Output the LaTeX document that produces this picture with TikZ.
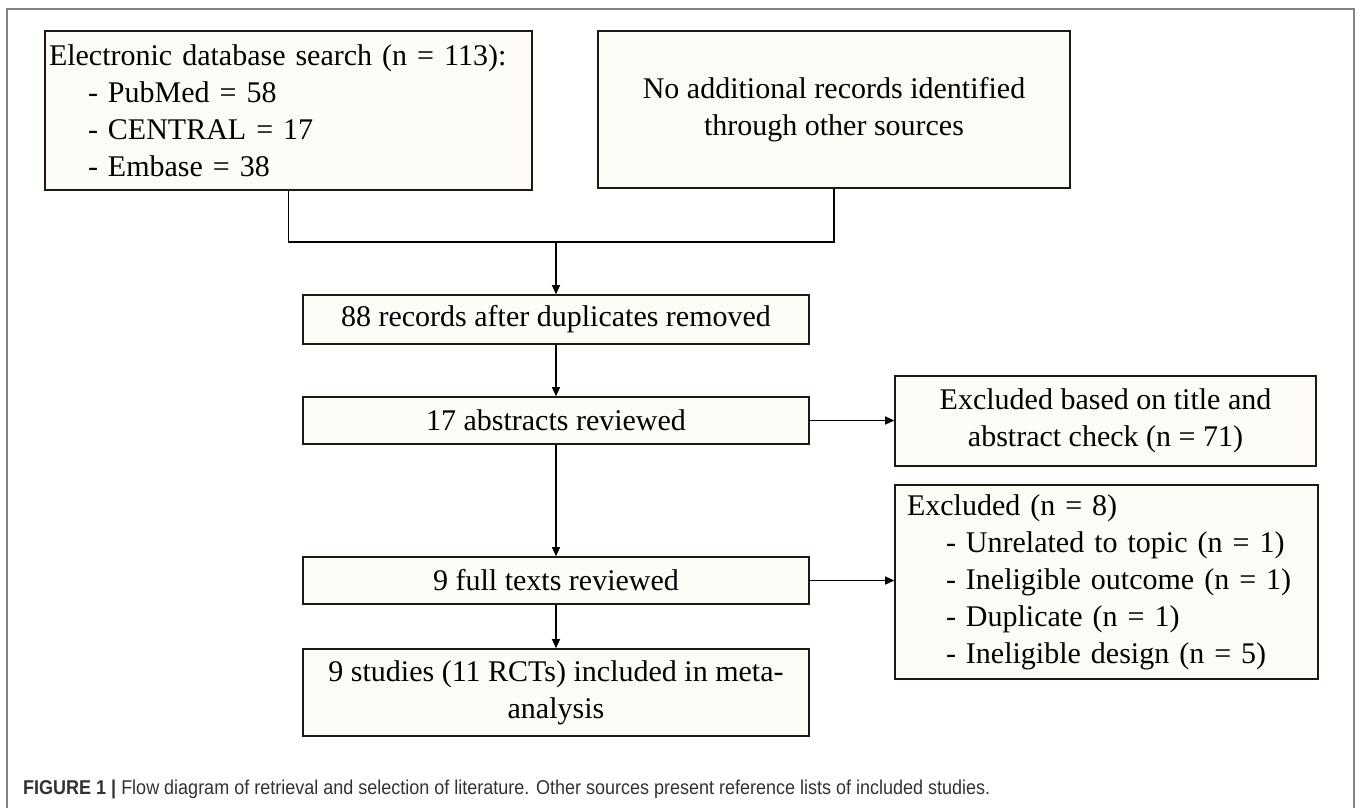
\documentclass[tikz,border=0pt]{standalone}
\usepackage{fontspec}
\setmainfont{Liberation Serif}
\newfontfamily\capfont{Liberation Sans}[FakeStretch=0.9]
\usetikzlibrary{arrows.meta}
\definecolor{boxfill}{RGB}{253,251,245}
\definecolor{boxline}{RGB}{30,25,20}
\definecolor{framecol}{RGB}{130,130,130}
\definecolor{capcol}{RGB}{50,50,50}
\tikzset{
  flowbox/.style={draw=boxline, line width=1.6pt, fill=boxfill, inner sep=0pt,
    font=\fontsize{30}{37}\selectfont},
  link/.style={draw=black, line width=1.3pt},
  arr/.style={link, -{Triangle[length=9pt,width=8pt]}},
}
\begin{document}
\begin{tikzpicture}[x=1pt,y=-1pt]
\useasboundingbox (0,0) rectangle (1357,808);
\draw[framecol, line width=1.5pt] (7,815) -- (7,9) -- (1354,9) -- (1354,815);

\node[flowbox, minimum width=487pt, minimum height=159pt, text width=479pt, align=left] (e) at (288.5,110.5)
  {Electronic database search (n = 113):\\
   \hspace*{39pt}- PubMed = 58\\
   \hspace*{39pt}- CENTRAL = 17\\
   \hspace*{39pt}- Embase = 38};
\node[flowbox, minimum width=472pt, minimum height=157pt, align=center] (o) at (834,109.5)
  {No additional records identified\\through other sources};
\node[flowbox, minimum width=506pt, minimum height=49pt] (r) at (556,319.5)
  {88 records after duplicates removed};
\node[flowbox, minimum width=506pt, minimum height=47pt] (a) at (556,420.5)
  {17 abstracts reviewed};
\node[flowbox, minimum width=506pt, minimum height=47pt] (f) at (556,580.5)
  {9 full texts reviewed};
\node[flowbox, minimum width=506pt, minimum height=87pt, align=center] (s) at (556,692.5)
  {9 studies (11 RCTs) included in meta-\\analysis};
\node[flowbox, minimum width=421pt, minimum height=90pt, align=center] (x1) at (1105.5,421)
  {Excluded based on title and\\abstract check (n = 71)};
\node[flowbox, minimum width=423pt, minimum height=194pt, text width=399pt, align=left] (x2) at (1106.5,582)
  {Excluded (n = 8)\\
   \hspace*{39pt}- Unrelated to topic (n = 1)\\
   \hspace*{39pt}- Ineligible outcome (n = 1)\\
   \hspace*{39pt}- Duplicate (n = 1)\\
   \hspace*{39pt}- Ineligible design (n = 5)};

\coordinate (j) at (556,242);
\draw[link] (e.south) -- (e.south |- j) -- (o.south |- j) -- (o.south);
\draw[arr] (j) -- (r.north);
\draw[arr] (r.south) -- (a.north);
\draw[arr] (a.south) -- (f.north);
\draw[arr] (f.south) -- (s.north);
\draw[arr] (a.east) -- (a.east -| x1.west);
\draw[arr] (f.east) -- (f.east -| x2.west);

\node[anchor=base west, inner sep=0pt, text=capcol, font=\capfont\fontsize{20}{22}\selectfont] (cap) at (23,794)
  {\textbf{FIGURE 1} \textbf{|} Flow diagram of retrieval and selection of literature. Other sources present reference lists of included studies.};
\end{tikzpicture}
\end{document}
